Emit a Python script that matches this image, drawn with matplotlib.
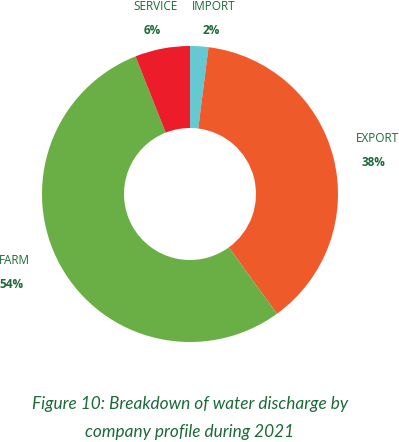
import matplotlib
matplotlib.use("Agg")
import matplotlib.pyplot as plt

# data
labels = ["IMPORT", "EXPORT", "FARM", "SERVICE"]
shares = [2, 38, 54, 6]
colors = ["#66C8D0", "#EE5A2A", "#6AAF45", "#ED1C2A"]
caption = ["Figure 10: Breakdown of water discharge by",
           "company profile during 2021"]

W, H = 399, 442
text_green = "#1B6A38"

fig = plt.figure(figsize=(W / 100, H / 100), dpi=100)
ax = fig.add_axes([0, 0, 1, 1])

ax.pie(shares, colors=colors, startangle=90, counterclock=False,
       center=(190, H - 194), radius=148,
       wedgeprops=dict(width=82, edgecolor="none"))

ax.set_xlim(0, W)
ax.set_ylim(0, H)
ax.set_aspect("equal")
ax.axis("off")

# label positions (pixel coords from top-left)
label_pos = {
    "IMPORT": (214, 6),
    "EXPORT": (377, 138),
    "FARM": (14, 260),
    "SERVICE": (155, 6),
}
for name, val in zip(labels, shares):
    x, y = label_pos[name]
    ax.text(x, H - y, name, ha="center", va="center", fontsize=8.5,
            family="Open Sans", color=text_green)
    ax.text(x - 3, H - y - 24, f"{val}%", ha="center", va="center",
            fontsize=8.5, fontweight="bold", family="Open Sans", color=text_green)

for i, line in enumerate(caption):
    ax.text(190, H - 404 - 28 * i, line, ha="center", va="center",
            fontsize=12.4, style="italic", family="Lato", color=text_green)

fig.savefig("out.png", dpi=100)
